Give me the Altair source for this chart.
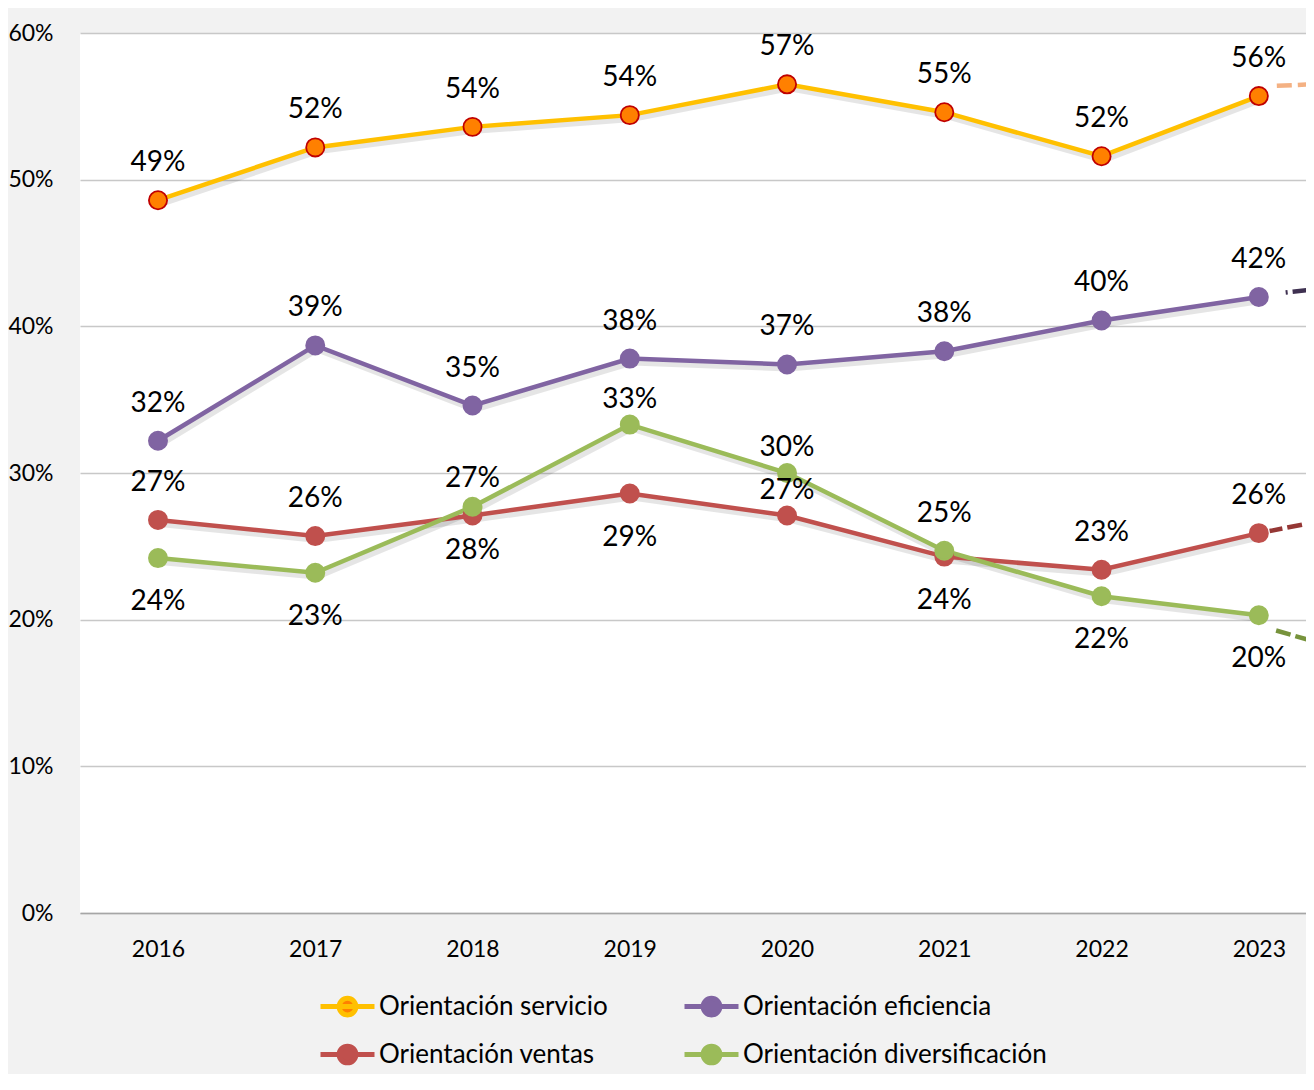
import altair as alt
import pandas as pd

# ---------------- data ----------------
years = [2016, 2017, 2018, 2019, 2020, 2021, 2022, 2023]
series = ["Orientación servicio", "Orientación eficiencia",
          "Orientación ventas", "Orientación diversificación"]

servicio = [48.6, 52.2, 53.6, 54.4, 56.5, 54.6, 51.6, 55.7]
eficiencia = [32.2, 38.7, 34.6, 37.8, 37.4, 38.3, 40.4, 42.0]
ventas = [26.8, 25.7, 27.1, 28.6, 27.1, 24.3, 23.4, 25.9]
diversificacion = [24.2, 23.2, 27.7, 33.3, 30.0, 24.7, 21.6, 20.3]

# dashed projection segments (2023 -> 2024), cut by the plot edge
trend_years = [2023, 2024]
trend_servicio = [56.35, 56.8]
trend_eficiencia = [42.1, 43.3]
trend_ventas = [25.9, 28.0]
trend_diversificacion = [19.6, 16.5]

# label placement: a = above, n = just above, b = below
pos_servicio = ["a"] * 8
pos_eficiencia = ["a"] * 8
pos_ventas = ["a", "a", "a", "b", "n", "b", "a", "a"]
pos_diversificacion = ["b", "b", "b", "n", "n", "a", "b", "b"]

y_ticks = [0, 10, 20, 30, 40, 50, 60]

# ---------------- styles ----------------
line_colors = ["#FFC000", "#8064A2", "#C0504D", "#9BBB59"]
fill_colors = ["#FF8000", "#8064A2", "#C0504D", "#9BBB59"]
edge_colors = ["#C00000", "#8064A2", "#C0504D", "#9BBB59"]
trend_colors = ["#F4B183", "#3F3151", "#953735", "#77933C"]
trend_dash = [
    [0.001, 18, 15, 6, 15, 6, 15, 300],
    [0.001, 27, 2, 5, 16, 6, 15, 300],
    [0.001, 11, 13, 5, 15, 6, 15, 300],
    [0.001, 18, 15, 5, 15, 6, 15, 300],
]
label_dy = {"a": -37, "n": -25, "b": 44}
FONT = "Lato"

values = [servicio, eficiencia, ventas, diversificacion]
positions = [pos_servicio, pos_eficiencia, pos_ventas, pos_diversificacion]
trends = [trend_servicio, trend_eficiencia, trend_ventas, trend_diversificacion]

rows = []
for s, vals, poss in zip(series, values, positions):
    for yr, v, p in zip(years, vals, poss):
        rows.append({"serie": s, "anio": yr, "valor": v, "pos": p})
df = pd.DataFrame(rows)

trows = []
for s, tv in zip(series, trends):
    for yr, v in zip(trend_years, tv):
        trows.append({"serie": s, "anio": yr, "valor": v})
tdf = pd.DataFrame(trows)

x_enc = alt.X(
    "anio:Q",
    scale=alt.Scale(domain=[2015.504, 2023.30], nice=False, zero=False),
    axis=alt.Axis(values=years, format="d", title=None, grid=False, ticks=False,
                  domain=True, domainColor="#A6A6A6", domainWidth=1.5,
                  labelFont=FONT, labelFontSize=23, labelColor="black",
                  labelPadding=25, labelFlush=False, labelOverlap=False),
)
y_enc = alt.Y(
    "valor:Q",
    scale=alt.Scale(domain=[0, 60], nice=False, zero=True),
    axis=alt.Axis(values=y_ticks, labelExpr="datum.value + '%'", title=None,
                  ticks=False, domain=False, gridColor="#C8C8C8", gridWidth=1.5,
                  labelFont=FONT, labelFontSize=23, labelColor="black",
                  labelPadding=27),
)

legend_path = "M-1,0L1,0M0.31,0A0.31,0.31,0,1,1,-0.31,0A0.31,0.31,0,1,1,0.31,0Z"


def make_legend():
    return alt.Legend(
        orient="none", legendX=238, legendY=944, columns=2, direction="horizontal",
        title=None,
        symbolType=legend_path, symbolSize=2916, symbolStrokeWidth=5,
        symbolOpacity=1,
        labelFont=FONT, labelFontSize=26, labelColor="black", labelOffset=2,
        columnPadding=66, rowPadding=-2, labelLimit=400,
    )


base = alt.Chart(df)

shadow = base.mark_line(strokeWidth=6, color="black", opacity=0.10,
                        xOffset=2, yOffset=4).encode(
    x=x_enc, y=y_enc, detail="serie:N")

lines = base.mark_line(strokeWidth=4.5).encode(
    x=x_enc, y=y_enc,
    color=alt.Color("serie:N", scale=alt.Scale(domain=series, range=line_colors),
                    legend=make_legend()),
)

points = base.mark_point(shape="circle", filled=True, size=330, strokeWidth=1.8,
                         opacity=1).encode(
    x=x_enc, y=y_enc,
    fill=alt.Fill("serie:N", scale=alt.Scale(domain=series, range=fill_colors),
                  legend=make_legend()),
    stroke=alt.Stroke("serie:N", scale=alt.Scale(domain=series, range=edge_colors),
                      legend=None),
)

label_layers = []
for key, dy in label_dy.items():
    label_layers.append(
        base.transform_filter(alt.datum.pos == key).transform_calculate(
            label="format(datum.valor, '.0f') + '%'"
        ).mark_text(font=FONT, fontSize=28, color="black", baseline="middle", dy=dy)
        .encode(x=x_enc, y=y_enc, text="label:N")
    )

trend_layers = []
for s, c, d in zip(series, trend_colors, trend_dash):
    trend_layers.append(
        alt.Chart(tdf).transform_filter(alt.datum.serie == s)
        .mark_line(color=c, strokeWidth=4.5, strokeDash=d, clip=True)
        .encode(x=x_enc, y=y_enc)
    )

chart = alt.layer(shadow, lines, *trend_layers, points, *label_layers).properties(
    width=1226, height=880,
    autosize=alt.AutoSizeParams(type="none"),
    padding={"left": 72, "top": 25, "right": 0, "bottom": 161},
    background="#F2F2F2",
).configure_view(fill="white", stroke=None)

chart.save("out.html", embed_options={"renderer": "svg", "actions": False})
